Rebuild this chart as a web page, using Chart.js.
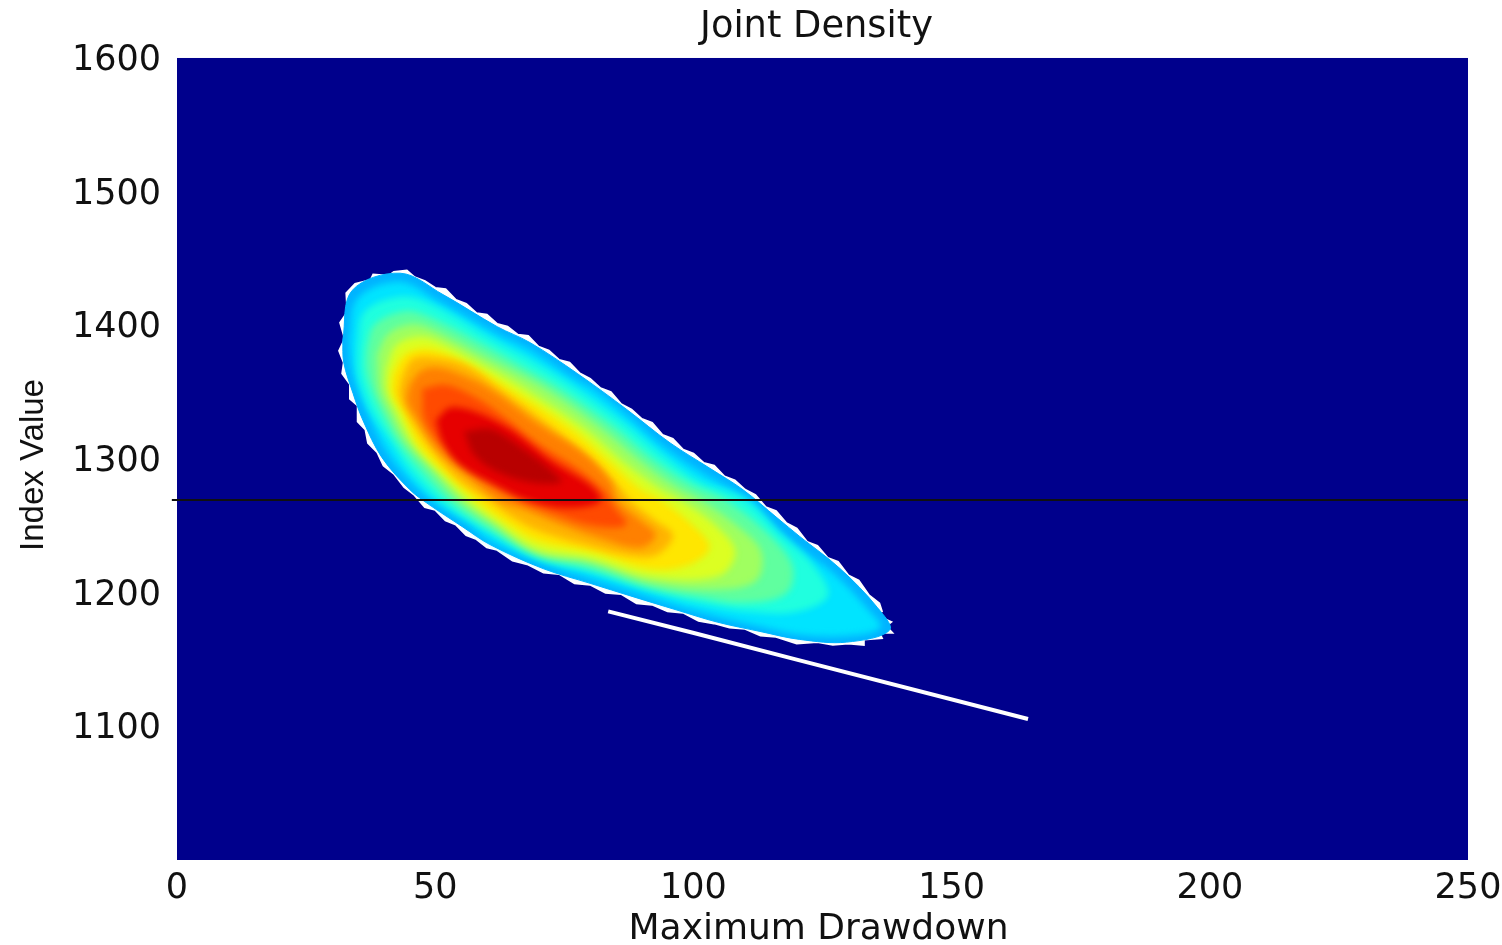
<!DOCTYPE html>
<html><head><meta charset="utf-8">
<style>html,body{margin:0;padding:0;background:#fff}canvas{display:block}</style>
<script src="https://cdn.jsdelivr.net/npm/chart.js@4/dist/chart.umd.min.js"></script>
</head><body><canvas id="c" width="1502" height="945"></canvas>
<script>
const titleText = 'Joint Density';
const xAxisTitle = 'Maximum Drawdown';
const yAxisTitle = 'Index Value';
const yTickLabels = ['', '1100', '1200', '1300', '1400', '1500', '1600'];
const referenceLevel = [[-1,1269.3],[250,1269.3]];
const worstCaseTail = [[83.5,1186],[99.9,1170],[120,1149.9],[164.8,1105.5]];

// density contours, outermost to innermost: [Maximum Drawdown, Index Value]
const edge = [[32.3,1372],[31.4,1381],[32.5,1390],[31.6,1402],[33,1410],[32.8,1424],[34.5,1431],[37.5,1434],[38,1438],[41,1437],[42,1440],[44.5,1441],[46,1436],[48,1433],[50,1428],[52,1427],[54,1419],[56,1416],[58,1409],[60,1408],[62,1401],[64,1399],[66,1393],[68,1392],[70,1384],[72,1381],[74,1374],[76,1372],[78,1364],[80,1360],[82,1353],[84,1350],[86,1341],[88,1337],[90,1330],[92,1327],[94,1318],[96,1315],[98,1307],[100,1304],[102,1297],[104,1295],[106,1287],[108,1284],[110,1277],[112,1273],[114,1264],[116,1261],[118,1252],[120,1248],[122,1238],[124,1235],[126,1226],[128,1223],[130,1213],[132,1209],[134,1198],[136,1192],[136.5,1186],[135.5,1183],[138.3,1178],[137.3,1175],[138.5,1170],[136,1170],[136.5,1166],[133,1165],[133,1161],[130,1162],[127,1161],[124,1163],[120,1162],[116,1167],[113,1168],[110,1173],[107,1174],[104,1177],[101,1179],[98,1185],[95,1186],[92,1191],[89,1192],[86,1199],[83,1200],[80,1206],[77,1207],[74,1214],[71,1215],[68,1221],[65,1224],[62,1232],[60,1234],[58,1240],[56,1243],[54,1251],[52,1254],[50,1262],[48,1264],[46,1273],[44,1279],[42,1289],[40,1295],[38.8,1305],[37,1312],[36.5,1322],[35,1328],[35,1340],[33.5,1345],[33.5,1356],[32,1364]];
const band1 = [[32.1,1389],[33.9,1426],[43.2,1439],[51.5,1423],[62,1399],[68.4,1387],[77.5,1364],[87.1,1337],[95.5,1312],[103.2,1293],[109.6,1277],[116.2,1256],[120.6,1242],[128.4,1218],[135.6,1189],[138,1172],[129.7,1163],[120.6,1165],[112.9,1171],[104.6,1178],[96.8,1187],[88.3,1197],[80,1207],[70.9,1218],[60.6,1236],[55.4,1249],[48.4,1267],[45.1,1277],[39.7,1301],[36,1329],[34.1,1349],[32.3,1372]];
const band2 = [[33.5,1389],[35.1,1420],[43.2,1432],[50.9,1417],[62,1393],[68.4,1381],[77.1,1359],[80.4,1352],[86.8,1333],[94.5,1308],[102.2,1288],[111,1269],[115.8,1249],[120.6,1233],[127.4,1213],[133.8,1187],[136.1,1174],[129.4,1168],[120.6,1169],[111.9,1176],[104.2,1183],[96.4,1191],[88.3,1201],[80,1211],[70.9,1222],[60.6,1239],[55.8,1253],[49.4,1269],[45.1,1284],[40.5,1307],[37.4,1331],[35.1,1352],[33.9,1370]];
const band3 = [[35.1,1385],[36.4,1410],[43.2,1421],[49,1416],[61.6,1388],[68.4,1374],[77.5,1352],[86.8,1326],[93.6,1304],[101.3,1283],[110,1269],[117,1243],[123,1221],[126,1198],[120,1186],[111,1186],[101.3,1192],[91.6,1202],[80,1216],[69.7,1226],[60.6,1245],[50.9,1269],[45.5,1290],[41.3,1314],[37.8,1335],[36,1352],[35.1,1367]];
const band4 = [[36.8,1382],[38.3,1400],[44.1,1410],[49,1405.5],[61.6,1380],[68.4,1365],[74.2,1352],[84.8,1323],[91.6,1301],[99.3,1281],[106.1,1269],[113.5,1247],[119,1221],[118,1200],[110,1193],[101.3,1197],[91.6,1204],[80,1218.5],[69.7,1228],[60.6,1248],[52.9,1269],[47,1293],[42.7,1314],[39.7,1335],[37.8,1352],[36.8,1367]];
const band5 = [[38.9,1378],[40.9,1393],[45.1,1400],[49,1397],[60.6,1374],[71.3,1352],[81.9,1323],[89.7,1298],[96.4,1279],[101.3,1269],[108,1251],[113,1231],[112,1209],[103,1203],[91.6,1208],[80,1223],[69.7,1230],[60.6,1253],[54.8,1269],[49,1293],[44.1,1314],[41.2,1335],[39.3,1352]];
const band6 = [[40.7,1368],[42.6,1385],[47,1391],[50.9,1387],[61.6,1365],[67.4,1352],[79,1322],[86.8,1296],[93.6,1277],[97.4,1269],[104,1251],[108,1231],[105,1213],[92,1212],[80,1226],[69.7,1233],[61.6,1254],[56.4,1269],[50.9,1290],[46.1,1310],[42.6,1335],[40.7,1352]];
const band7 = [[41.8,1363],[44.2,1378],[49,1382],[56.7,1370],[64.5,1352],[76.1,1323],[84.2,1296],[89.7,1277],[93.6,1269],[99,1253],[103,1234],[99,1221],[91.6,1218],[81,1230],[69.7,1239],[62.5,1256],[58.1,1269],[52.5,1288],[47,1310],[43.8,1335],[41.8,1349]];
const band8 = [[43.6,1361],[45.5,1374],[49,1376],[55.8,1370],[62.5,1352],[73.2,1322],[80.9,1298],[86.1,1277],[87.7,1269],[92.5,1254],[95.9,1243],[93.5,1230],[89.7,1227],[80,1235],[69.7,1247],[64.5,1258],[60.6,1269],[54.8,1284],[49.4,1307],[45.5,1329],[43.2,1348]];
const band9 = [[45.1,1355],[47.1,1365],[50,1368],[54.8,1363],[60.6,1352],[70.3,1325],[79,1303],[83.9,1283],[85.2,1269],[89.7,1254],[92.6,1243],[89.7,1234],[81.9,1241],[73.2,1253],[66.4,1264],[62.5,1269],[56.7,1286],[50.9,1305],[46.7,1329],[44.7,1343]];
const band10 = [[47.6,1352],[51.9,1355],[56.7,1348],[62,1335],[70.3,1310],[77.7,1292],[82.9,1275],[84.2,1266],[86.8,1251],[80,1251],[71.3,1262],[65,1272],[57.5,1290],[51.5,1310],[48,1330]];
const band11 = [[50.3,1329],[52.9,1338],[57.7,1335],[64.5,1322],[72.2,1299],[80,1280],[81.9,1269],[76.1,1264],[68.4,1269],[61.6,1281],[54.8,1296],[51.5,1313]];
const band12 = [[55.8,1320],[60.6,1322],[66.4,1309],[72.2,1292],[74.2,1283],[68.4,1283],[62.5,1290],[57.7,1303]];

const bands = [band1,band2,band3,band4,band5,band6,band7,band8,band9,band10,band11,band12];
const bandColors = ['#00b4ff','#00e4ff','#20ffdf','#60ff9f','#a0ff60','#dcff22','#ffe600','#ffb400','#ff8000','#ff4a00','#e60000','#b80000'];

const pts = a => a.map(([x,y]) => ({x,y}));
const closed = a => pts(a.concat([a[0]]));
const bandSets = bands.map((b,i) => ({
  data: closed(b), showLine:true, fill:'shape', tension:0.35, borderWidth:1,
  borderColor:bandColors[i], backgroundColor:bandColors[i], pointRadius:0
})).reverse();

const datasets = [
  {data:pts(referenceLevel), showLine:true, borderColor:'#101010', borderWidth:2, pointRadius:0, clip:false},
  {data:pts(worstCaseTail), showLine:true, borderColor:'#ffffff', borderWidth:4, pointRadius:0},
  ...bandSets,
  {data:closed(edge), showLine:true, fill:'shape', borderWidth:2, borderColor:'#ffffff', backgroundColor:'#ffffff', pointRadius:0}
];
const firstSoftened = 2, lastSoftened = 2 + bandSets.length - 2;

function nudgeTitle(scale, dx, dy){
  const draw = scale.drawTitle;
  scale.drawTitle = function(){
    this.ctx.save(); this.ctx.translate(dx, dy); draw.call(this); this.ctx.restore();
  };
}
const plotBackground = {
  id:'plotBackground',
  afterLayout(chart){
    chart.titleBlock.left -= 6; chart.titleBlock.right -= 6;
    nudgeTitle(chart.scales.y, 0, 6);
    nudgeTitle(chart.scales.x, -4, 3);
  },
  beforeDraw(chart){
    chart.scales.y.getLabelItems().forEach(i => { i.options.translation[1] += 3; });
  },
  beforeDatasetsDraw(chart){
    const a = chart.chartArea, c = chart.ctx;
    c.save(); c.fillStyle = '#00008c'; c.fillRect(a.left,a.top,a.width,a.height); c.restore();
  },
  afterDatasetDraw(chart,args){
    const next = args.index - 1;
    chart.ctx.filter = (next >= firstSoftened && next <= lastSoftened) ? 'blur(3px)' : 'none';
  }
};

new Chart(document.getElementById('c'), {
  type:'scatter',
  data:{datasets},
  plugins:[plotBackground],
  options:{
    responsive:false, animation:false, devicePixelRatio:1,
    layout:{autoPadding:false, padding:{left:0,top:0,right:34,bottom:0}},
    plugins:{
      legend:{display:false}, tooltip:{enabled:false},
      title:{display:true, text:titleText, fullSize:false, color:'#111',
        font:{family:'"DejaVu Sans"',size:36.8,weight:'normal',lineHeight:1.1}, padding:{top:7,bottom:10.5}}
    },
    scales:{
      x:{type:'linear',min:0,max:250,
        afterFit(s){s.height=85; s.paddingLeft=0; s.paddingRight=0;},
        grid:{display:false,drawTicks:false}, border:{display:false},
        ticks:{stepSize:50,color:'#111',padding:8,maxRotation:0,font:{family:'"DejaVu Sans"',size:35}},
        title:{display:true,text:xAxisTitle,color:'#111',padding:0,font:{family:'"DejaVu Sans"',size:36,lineHeight:1.0}}
      },
      y:{type:'linear',min:1000,max:1600,
        afterFit(s){s.width=177; s.paddingTop=0; s.paddingBottom=0;},
        grid:{display:false,drawTicks:false}, border:{display:false},
        ticks:{stepSize:100,color:'#111',padding:16,font:{family:'"DejaVu Sans"',size:35},
          callback:(v)=>yTickLabels[Math.round((v-1000)/100)]},
        title:{display:true,text:yAxisTitle,color:'#111',padding:{top:14,bottom:0},font:{family:'"Liberation Sans"',size:33,lineHeight:1.2}}
      }
    }
  }
});
</script></body></html>
